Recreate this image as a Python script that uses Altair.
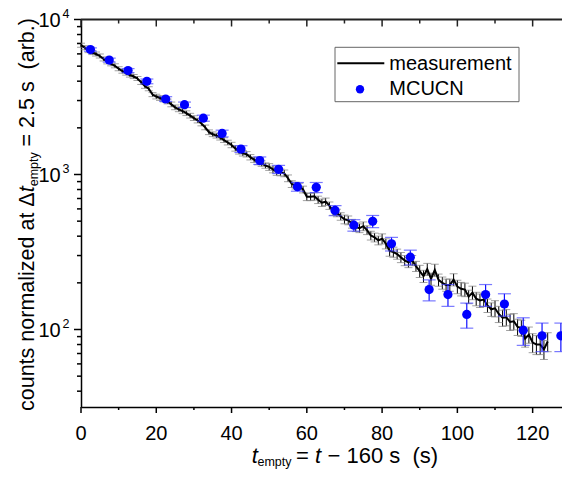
import altair as alt
import pandas as pd

FONT = "Liberation Sans"
W, H = 481, 387.5
OX, OY = 81, 19.5          # page position of the plot origin (for layout only)
NB = "\u00a0"

# ---------------- data ----------------
meas_t = list(range(0, 125))
meas_v = [6826, 6581, 6301, 6121, 5989, 5817, 5568, 5331, 5179, 5030,
          4815, 4644, 4512, 4382, 4288, 4165, 3930, 3708, 3576, 3278,
          3184, 3115, 3048, 2960, 2834, 2713, 2635, 2560, 2487, 2398,
          2312, 2230, 2135, 2014, 1874, 1819, 1780, 1729, 1668, 1608,
          1551, 1474, 1411, 1371, 1351, 1293, 1247, 1203, 1177, 1143,
          1119, 1079, 1040, 1032, 1018, 946, 868, 849, 836, 801,
          718, 718, 723, 687, 658, 668, 630, 577, 565, 537,
          514, 507, 482, 458, 451, 464, 438, 404, 393, 376,
          385, 358, 321, 316, 307, 292, 279, 271, 279, 256,
          238, 221, 245, 212, 242, 209, 200, 194, 194, 210,
          189, 183, 181, 163, 173, 158, 154, 156, 143, 135,
          137, 126, 119, 120, 112, 113, 104, 102.5, 87.4, 92.6,
          82.4, 80.1, 80.1, 74.5, 83.6]
meas_err_pct = [3, 3, 3, 3, 3, 3, 3, 3, 3, 3,
                3, 3, 3, 3, 3, 3, 3, 3, 3, 3,
                3.5, 3.5, 3.5, 3.5, 3.5, 3.5, 3.5, 3.5, 3.5, 3.5,
                3.5, 3.5, 3.5, 3.5, 3.5, 3.5, 3.5, 3.5, 3.5, 3.5,
                4, 4, 4, 4, 4, 4, 4, 4, 4, 4,
                5, 5, 5, 5, 5, 5, 5, 5, 5, 5,
                5.5, 5.5, 5.5, 5.5, 5.5, 5.5, 5.5, 5.5, 5.5, 5.5,
                6.5, 6.5, 6.5, 6.5, 6.5, 6.5, 6.5, 6.5, 6.5, 6.5,
                7.5, 7.5, 7.5, 7.5, 7.5, 7.5, 7.5, 7.5, 7.5, 7.5,
                9, 9, 9, 9, 9, 9, 9, 9, 9, 9,
                10, 10, 10, 10, 10, 10, 10, 10, 10, 10,
                12, 12, 12, 12, 12, 12, 12, 12, 12, 12,
                14, 14, 14, 14, 14]

mcucn_t = [2.5, 7.5, 12.5, 17.5, 22.5, 27.5, 32.5, 37.5, 42.5, 47.5,
           52.5, 57.5, 62.5, 67.5, 72.5, 77.5, 82.5, 87.5, 92.5, 97.5,
           102.5, 107.5, 112.5, 117.5, 122.5, 127.5]
mcucn_v = [6400, 5470, 4680, 3990, 3070, 2820, 2310, 1840, 1460, 1230,
           1080, 834, 826, 586, 471, 499, 357, 293, 181, 168,
           125, 168, 146, 99, 91, 91]
mcucn_err = [160, 164, 140, 140, 107, 113, 104, 92, 73, 68,
             65, 54, 62, 44, 40, 45, 36, 32, 28, 27,
             23, 27, 24, 20, 19, 19]

x_major = [0, 20, 40, 60, 80, 100, 120]
x_minor = [10, 30, 50, 70, 90, 110]
y_major = [100, 1000, 10000]
y_exp = ["2", "3", "4"]
y_minor = [40, 50, 60, 70, 80, 90,
           200, 300, 400, 500, 600, 700, 800, 900,
           2000, 3000, 4000, 5000, 6000, 7000, 8000, 9000]

# ---------------- tables ----------------
meas = pd.DataFrame({"t": meas_t, "v": meas_v, "p": meas_err_pct})
meas["lo"] = meas["v"] * (1 - meas["p"] / 100)
meas["hi"] = meas["v"] * (1 + meas["p"] / 100)
mc = pd.DataFrame({"t": mcucn_t, "v": mcucn_v, "e": mcucn_err})
mc["lo"] = mc["v"] - mc["e"]
mc["hi"] = mc["v"] + mc["e"]

xs = alt.Scale(domain=[0, 127.8], nice=False, zero=False)
ys = alt.Scale(type="log", domain=[10 ** 1.5, 10000], nice=False)
AX = alt.Axis(title="", labels=False, ticks=False, grid=False, domain=True,
              domainColor="black", domainWidth=1.5)


def X(f="t"):
    return alt.X(f + ":Q", scale=xs, axis=AX)


def Y(f="v"):
    return alt.Y(f + ":Q", scale=ys, axis=AX)


meas_bar = alt.Chart(meas).mark_rule(color="black", strokeWidth=1).encode(
    x=X(), y=Y("lo"), y2="hi:Q")
meas_cap_lo = alt.Chart(meas).mark_tick(orient="horizontal", size=8, thickness=1,
                                        color="#7a7a7a").encode(x=X(), y=Y("lo"))
meas_cap_hi = alt.Chart(meas).mark_tick(orient="horizontal", size=8, thickness=1,
                                        color="#7a7a7a").encode(x=X(), y=Y("hi"))
meas_line = alt.Chart(meas).mark_line(color="black", strokeWidth=2).encode(
    x=X(), y=Y())

mc_bar = alt.Chart(mc).mark_rule(color="#1010ff", strokeWidth=1.2).encode(
    x=X(), y=Y("lo"), y2="hi:Q")
mc_cap_lo = alt.Chart(mc).mark_tick(orient="horizontal", size=13, thickness=1.2,
                                    color="#4040ff").encode(x=X(), y=Y("lo"))
mc_cap_hi = alt.Chart(mc).mark_tick(orient="horizontal", size=13, thickness=1.2,
                                    color="#4040ff").encode(x=X(), y=Y("hi"))
mc_pts = alt.Chart(mc).mark_circle(color="#0000ff", opacity=1, size=85).encode(
    x=X(), y=Y())

# ticks
ymaj = pd.DataFrame({"v": y_major, "e": y_exp})
ymin = pd.DataFrame({"v": y_minor})
xmaj = pd.DataFrame({"t": x_major})
xmin = pd.DataFrame({"t": x_minor})
TK = dict(color="black", strokeWidth=1.5)
ticks = [
    alt.Chart(ymaj).mark_rule(**TK).encode(y=Y(), x=alt.value(0), x2=alt.value(-7)),
    alt.Chart(ymin).mark_rule(**TK).encode(y=Y(), x=alt.value(0), x2=alt.value(-4)),
    alt.Chart(xmaj).mark_rule(**TK).encode(x=X(), y=alt.value(H), y2=alt.value(H + 6)),
    alt.Chart(xmin).mark_rule(**TK).encode(x=X(), y=alt.value(H), y2=alt.value(H + 3)),
    alt.Chart(xmaj).mark_rule(color="#222", strokeWidth=1.5).encode(
        x=X(), y=alt.value(0), y2=alt.value(7)),
    alt.Chart(xmin).mark_rule(color="#222", strokeWidth=1.5).encode(
        x=X(), y=alt.value(0), y2=alt.value(4)),
]
one = pd.DataFrame({"a": [0]})
top_line = alt.Chart(one).mark_rule(color="#222", strokeWidth=1.8).encode(
    x=alt.value(0), x2=alt.value(W + 1), y=alt.value(0))

# tick labels
ylab_base = alt.Chart(ymaj).mark_text(text="10", align="right", baseline="alphabetic",
                                      fontSize=20, font=FONT, dy=7.5).encode(
    y=Y(), x=alt.value(60.7 - OX))
ylab_exp = alt.Chart(ymaj).mark_text(align="left", baseline="alphabetic",
                                     fontSize=12.5, font=FONT, dy=-2).encode(
    y=Y(), x=alt.value(62.5 - OX), text="e:N")
xlab = alt.Chart(xmaj).mark_text(align="center", baseline="alphabetic",
                                 fontSize=20, font=FONT).encode(
    x=X(), y=alt.value(H + 33), text="t:Q")


def txt(s, x, y, size=20, style="normal", angle=0, align="left"):
    return alt.Chart(pd.DataFrame({"s": [s]})).mark_text(
        align=align, baseline="alphabetic", fontSize=size, font=FONT,
        fontStyle=style, angle=angle, color="black").encode(
        x=alt.value(x), y=alt.value(y), text="s:N")


# x title pieces (page x positions converted to plot coords)
XB = H + 55.5
xt = [
    txt("t", 251.7 - OX, XB, size=22, style="italic"),
    txt("empty", 257.5 - OX, XB + 3.5, size=12.5),
    txt("=", 296 - OX, XB, size=22),
    txt("t", 315 - OX, XB, size=22, style="italic"),
    txt("\u2212 160 s" + NB + NB + "(s)", 327.5 - OX, XB, size=22),
]
# y title pieces (rotated, reading upward)
YB = 34 - OX
Y0 = 391.5
FS = 21.5
yt = [
    txt("counts normalized at \u0394", YB, Y0, size=FS, angle=270),
    txt("t", YB, Y0 - 218.7, size=FS, style="italic", angle=270),
    txt("empty", YB + 3.5, Y0 - 224.7, size=12.5, angle=270),
    txt("= 2.5 s" + NB + NB + "(arb.)", YB, Y0 - 264.5, size=FS, angle=270),
]

# legend (page positions converted to plot coords)
leg_box = alt.Chart(one).mark_rect(fill="white", stroke="#666", strokeWidth=1).encode(
    x=alt.value(335 - OX), x2=alt.value(519 - OX),
    y=alt.value(47.3 - OY), y2=alt.value(101.7 - OY))
leg_line = alt.Chart(one).mark_rule(color="black", strokeWidth=2).encode(
    x=alt.value(337.3 - OX), x2=alt.value(384.3 - OX), y=alt.value(63.3 - OY))
leg_dot = alt.Chart(one).mark_circle(color="#0000ff", opacity=1, size=70).encode(
    x=alt.value(360 - OX), y=alt.value(89.3 - OY))
leg_t1 = txt("measurement", 389.3 - OX, 70 - OY)
leg_t2 = txt("MCUCN", 389.3 - OX, 95 - OY)

chart = alt.layer(
    meas_bar, meas_cap_lo, meas_cap_hi, meas_line,
    mc_bar, mc_cap_lo, mc_cap_hi, mc_pts,
    *ticks, top_line, ylab_base, ylab_exp, xlab, *xt, *yt,
    leg_box, leg_line, leg_dot, leg_t1, leg_t2,
).properties(
    width=W, height=H,
    autosize=alt.AutoSizeParams(type="none"),
    padding={"left": OX - 8, "top": OY - 8, "right": 0, "bottom": 62},
    background="white",
).configure_view(stroke=None)

chart.save("out.html", embed_options={"renderer": "svg", "actions": False})
